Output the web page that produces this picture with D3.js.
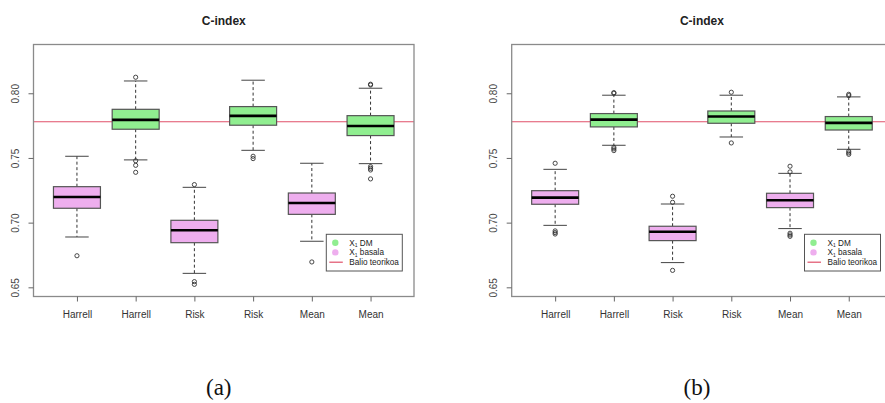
<!DOCTYPE html>
<html><head><meta charset="utf-8">
<script src="https://cdn.jsdelivr.net/npm/d3@7"></script>
<style>body{margin:0;background:#fff}svg{display:block}</style>
</head><body>
<svg id="c" width="885" height="403"></svg>
<script>
// ---- data ----
const categories = ["Harrell","Harrell","Risk","Risk","Mean","Mean"];
const groups = ["basala","DM","basala","DM","basala","DM"];
const yTicks = [0.65,0.70,0.75,0.80];
const theoretical = 0.778;
const legendLabels = ["DM","basala","Balio teorikoa"];
const captions = ["(a)","(b)"];
const titleText = "C-index";

// panel (a)
const aLow  = [0.6889,0.7485,0.6608,0.7559,0.6856,0.7456];
const aQ1   = [0.7111,0.7722,0.6845,0.7753,0.7064,0.7673];
const aMed  = [0.7198,0.7794,0.6941,0.7825,0.7152,0.7747];
const aQ3   = [0.7278,0.7876,0.7018,0.7897,0.7229,0.7827];
const aHigh = [0.7513,0.8095,0.7273,0.8101,0.7459,0.8039];
const aOut  = [[0.6744],[0.8124,0.7478,0.7443,0.7389],[0.7294,0.6544,0.6523],[0.7513,0.7495],[0.6696],[0.8070,0.8064,0.7433,0.7420,0.7407,0.7338]];

// panel (b)
const bLow  = [0.6979,0.7598,0.6691,0.7662,0.6954,0.7567];
const bQ1   = [0.7142,0.7740,0.6861,0.7768,0.7116,0.7716];
const bMed  = [0.7193,0.7796,0.6930,0.7820,0.7173,0.7771];
const bQ3   = [0.7247,0.7843,0.6972,0.7863,0.7227,0.7820];
const bHigh = [0.7412,0.7985,0.7144,0.7985,0.7381,0.7972];
const bOut  = [[0.7459,0.6936,0.6923,0.6912],[0.8005,0.8000,0.7582,0.7570,0.7557],[0.7204,0.7157,0.6631],[0.8008,0.7616],[0.7436,0.7392,0.6918,0.6905,0.6894],[0.7992,0.7982,0.7552,0.7539,0.7528]];

const colors = {DM:"#90ee90", basala:"#eeaeee"};
const lineColor = "#e0506a";

const svg = d3.select("#c");
const font = "'Liberation Sans', Arial, sans-serif";

function panel(x0, x1, low, q1, med, q3, high, out, caption) {
  const y0 = 44.5, y1 = 296.5;
  const x = d3.scaleLinear().domain([0.26, 6.74]).range([x0, x1]);
  const y = d3.scaleLinear().domain([0.6429, 0.8377]).range([y1, y0]);
  const g = svg.append("g");
  const bw = x(1.4) - x(1), cw = x(1.2) - x(1);

  // theoretical line
  g.append("line").attr("x1", x0).attr("x2", x1).attr("y1", y(theoretical)).attr("y2", y(theoretical))
    .attr("stroke", lineColor).attr("stroke-width", 1.2);

  categories.forEach((c, i) => {
    const cx = x(i + 1);
    g.append("line").attr("x1", cx).attr("x2", cx).attr("y1", y(q3[i])).attr("y2", y(high[i]))
      .attr("stroke", "#333").attr("stroke-dasharray", "3,2.5").attr("stroke-width", 1);
    g.append("line").attr("x1", cx).attr("x2", cx).attr("y1", y(q1[i])).attr("y2", y(low[i]))
      .attr("stroke", "#333").attr("stroke-dasharray", "3,2.5").attr("stroke-width", 1);
    [low[i], high[i]].forEach(v => g.append("line").attr("x1", cx - cw).attr("x2", cx + cw)
      .attr("y1", y(v)).attr("y2", y(v)).attr("stroke", "#444").attr("stroke-width", 1));
    g.append("rect").attr("x", cx - bw).attr("width", 2 * bw).attr("y", y(q3[i])).attr("height", y(q1[i]) - y(q3[i]))
      .attr("fill", colors[groups[i]]).attr("stroke", "#555").attr("stroke-width", 1.2);
    g.append("line").attr("x1", cx - bw).attr("x2", cx + bw).attr("y1", y(med[i])).attr("y2", y(med[i]))
      .attr("stroke", "#000").attr("stroke-width", 2.6);
    out[i].forEach(v => g.append("circle").attr("cx", cx).attr("cy", y(v)).attr("r", 2.1)
      .attr("fill", "none").attr("stroke", "#333").attr("stroke-width", 0.9));
  });

  g.append("rect").attr("x", x0).attr("y", y0).attr("width", x1 - x0).attr("height", y1 - y0)
    .attr("fill", "none").attr("stroke", "#8a8a8a").attr("stroke-width", 1.3);

  const ya = d3.axisLeft(y).tickValues(yTicks).tickSize(5).tickFormat(d3.format(".2f"));
  const yg = g.append("g").attr("transform", `translate(${x0},0)`).call(ya);
  yg.select(".domain").remove();
  yg.selectAll(".tick line").attr("stroke", "#666");
  yg.selectAll(".tick text").attr("transform", "rotate(-90)").attr("x", 0).attr("y", -15)
    .attr("dy", 0).attr("text-anchor", "middle").attr("fill", "#444")
    .style("font-family", font).style("font-size", "10px");

  const xa = d3.axisBottom(x).tickValues(d3.range(1, 7)).tickSize(5).tickFormat((d) => categories[d - 1]);
  const xg = g.append("g").attr("transform", `translate(0,${y1})`).call(xa);
  xg.select(".domain").remove();
  xg.selectAll(".tick line").attr("stroke", "#666");
  xg.selectAll(".tick text").attr("y", 18).attr("dy", "0.32em").attr("fill", "#333")
    .style("font-family", font).style("font-size", "10px");

  g.append("text").attr("x", (x0 + x1) / 2).attr("y", 25).attr("text-anchor", "middle")
    .style("font-family", font).style("font-weight", "bold").style("font-size", "12px").attr("fill", "#222")
    .text(titleText);

  // legend
  const lw = 76, lh = 36.7, ly = 234.3;
  const lx0 = x1 - 11.7 - lw;
  const lg = g.append("g");
  lg.append("rect").attr("x", lx0).attr("y", ly).attr("width", lw).attr("height", lh)
    .attr("fill", "#fff").attr("stroke", "#555").attr("stroke-width", 1);
  const rows = [ly + 8.5, ly + 18.1, ly + 27.9];
  lg.append("circle").attr("cx", lx0 + 9).attr("cy", rows[0]).attr("r", 3.2).attr("fill", colors.DM);
  lg.append("circle").attr("cx", lx0 + 9).attr("cy", rows[1]).attr("r", 3.2).attr("fill", colors.basala);
  lg.append("line").attr("x1", lx0 + 3).attr("x2", lx0 + 16.5).attr("y1", rows[2]).attr("y2", rows[2])
    .attr("stroke", lineColor).attr("stroke-width", 1.2);
  legendLabels.forEach((t, k) => {
    const tx = lg.append("text").attr("x", lx0 + 23).attr("y", rows[k]).attr("dy", "0.35em")
      .style("font-family", font).style("font-size", "8.2px").attr("fill", "#222");
    if (k < 2) {
      tx.append("tspan").text("X");
      tx.append("tspan").attr("dy", 1.3).style("font-size", "5px").text("1");
      tx.append("tspan").attr("dy", -1.3).text(" " + t);
    } else tx.text(t);
  });

  svg.append("text").attr("x", (x0 + x1) / 2 - 5).attr("y", 395).attr("text-anchor", "middle")
    .style("font-family", "'Liberation Serif', 'DejaVu Serif', serif").style("font-size", "23px").attr("fill", "#111")
    .text(caption);
}

panel(33.5, 414, aLow, aQ1, aMed, aQ3, aHigh, aOut, captions[0]);
panel(511.7, 892.2, bLow, bQ1, bMed, bQ3, bHigh, bOut, captions[1]);
</script>
</body></html>
